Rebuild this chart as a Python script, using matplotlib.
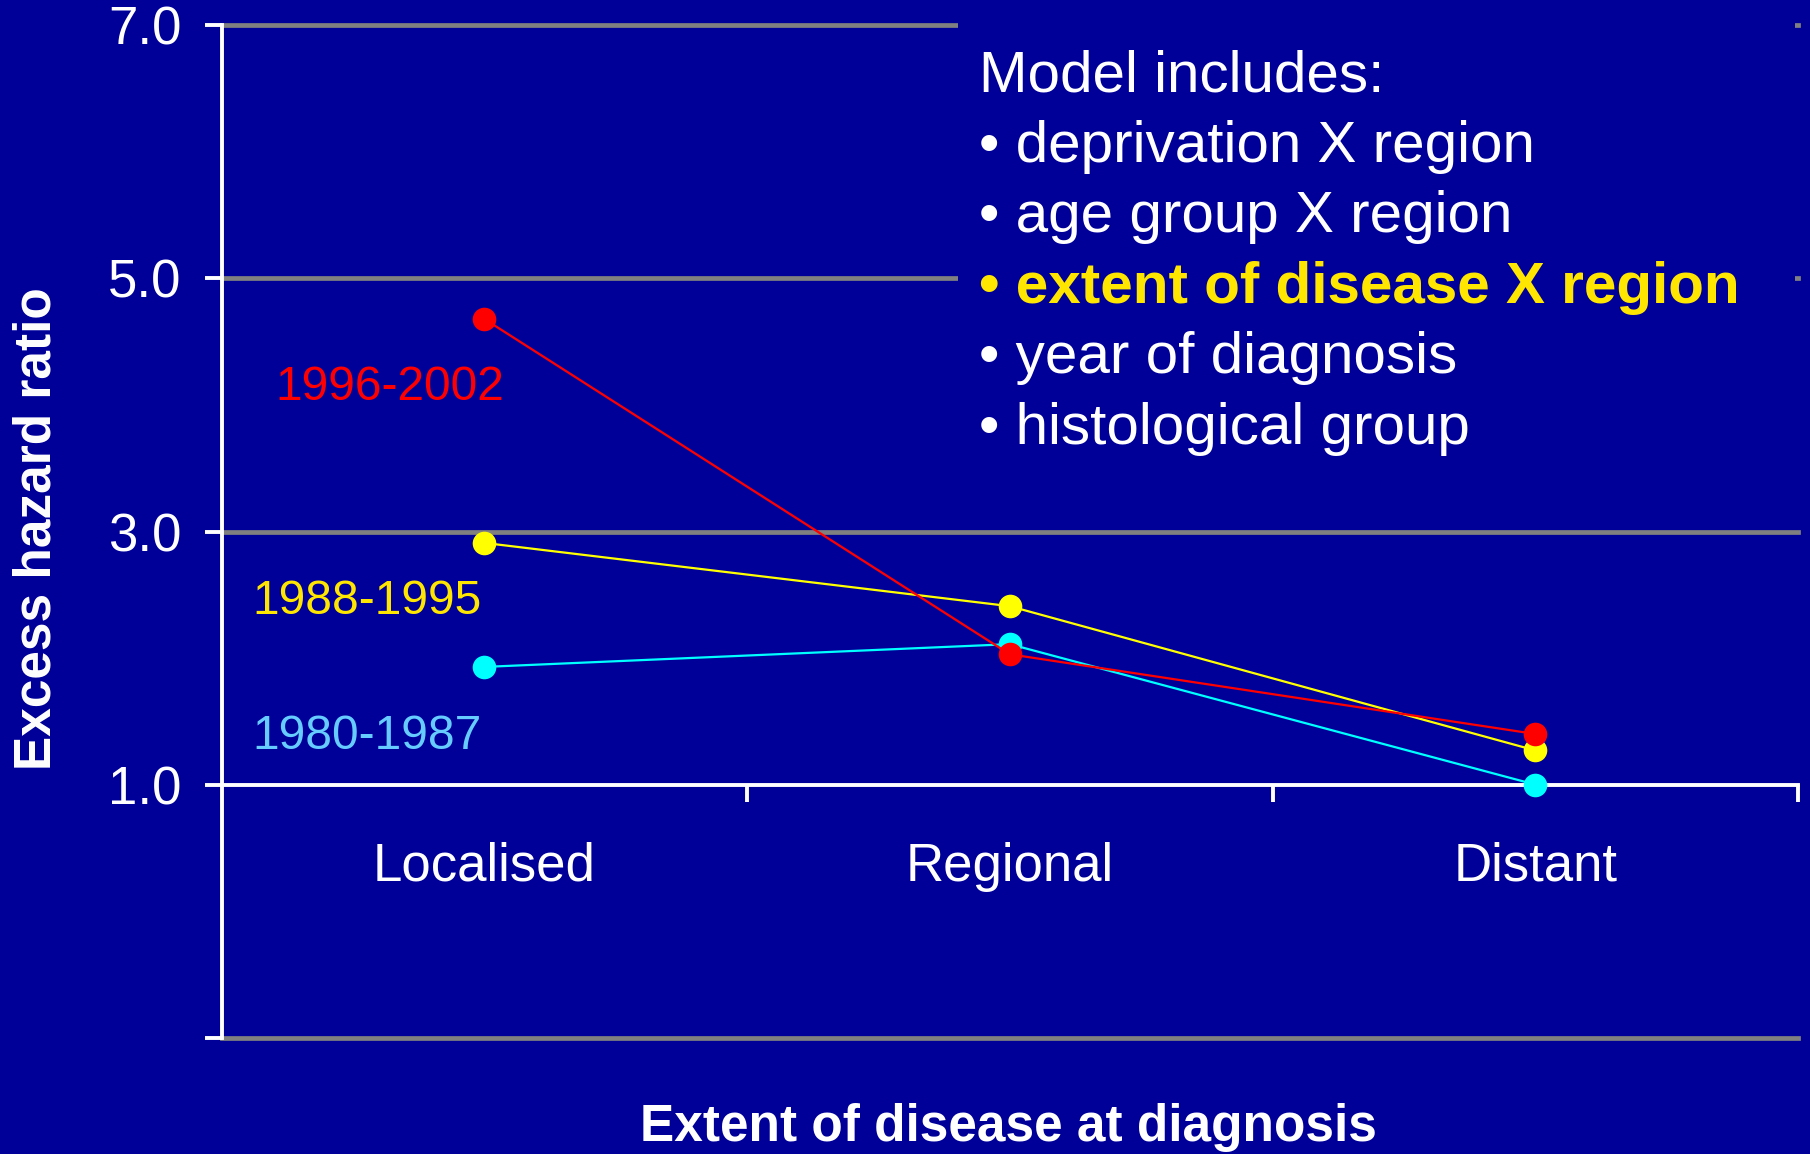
import matplotlib
matplotlib.use("Agg")
import matplotlib.pyplot as plt
from matplotlib.patches import Rectangle
from matplotlib.ticker import FixedLocator, FixedFormatter

# ---- data ----
categories = ["Localised", "Regional", "Distant"]
series_names = ["1996-2002", "1988-1995", "1980-1987"]
vals_1996_2002 = [4.68, 2.03, 1.40]
vals_1988_1995 = [2.91, 2.41, 1.27]
vals_1980_1987 = [1.93, 2.11, 1.00]
y_ticks = [-1.0, 1.0, 3.0, 5.0, 7.0]
y_tick_labels = ["", "1.0", "3.0", "5.0", "7.0"]
grid_values = [-1.0, 3.0, 5.0, 7.0]
box_title = "Model includes:"
box_items = ["deprivation X region", "age group X region",
             "extent of disease X region", "year of diagnosis",
             "histological group"]
highlight_item = "extent of disease X region"
x_title = "Extent of disease at diagnosis"
y_title = "Excess hazard ratio"

BG = "#000099"
GRID = "#808080"
FONT = ["Liberation Sans", "DejaVu Sans"]
plt.rcParams["font.family"] = FONT

fig = plt.figure(figsize=(18.10, 11.54), dpi=100, facecolor=BG)
ax = fig.add_axes([0.1224, 0.1008, 0.8710, 0.8772])
ax.set_facecolor(BG)
ax.set_xlim(0, 3)
ax.set_ylim(-1, 7)

# grid lines
for g in grid_values:
    ax.axhline(g, color=GRID, lw=3.4, zorder=1, clip_on=False)

# spines
for s in ["top", "right"]:
    ax.spines[s].set_visible(False)
ax.spines["left"].set_color("white")
ax.spines["left"].set_linewidth(2.8)
ax.spines["left"].set_zorder(5)
ax.spines["bottom"].set_position(("data", 1.0))
ax.spines["bottom"].set_color("white")
ax.spines["bottom"].set_linewidth(2.8)
ax.spines["bottom"].set_zorder(5)

# y ticks
ax.yaxis.set_major_locator(FixedLocator(y_ticks))
ax.yaxis.set_major_formatter(FixedFormatter(y_tick_labels))
ax.tick_params(axis="y", colors="white", length=12, width=2.8, pad=17,
               labelsize=38, direction="out")

# x ticks: major at boundaries, minor at category centers with labels
xpos = [i + 0.5 for i in range(len(categories))]
ax.xaxis.set_major_locator(FixedLocator([1, 2, 3]))
ax.xaxis.set_major_formatter(FixedFormatter(["", "", ""]))
ax.xaxis.set_minor_locator(FixedLocator(xpos))
ax.xaxis.set_minor_formatter(FixedFormatter(categories))
ax.tick_params(axis="x", which="major", colors="white", length=12, width=2.8,
               direction="out")
ax.tick_params(axis="x", which="minor", colors="white", length=0, pad=41,
               labelsize=38)

# data lines
series = [
    (vals_1980_1987, "#00FFFF"),
    (vals_1988_1995, "#FFFF00"),
    (vals_1996_2002, "#FF0000"),
]
for vals, c in series:
    ax.plot(xpos, vals, color=c, lw=1.6, marker="o", markersize=17,
            markeredgewidth=0, zorder=6, clip_on=False)

# series labels
ax.text(0.320, 4.14, series_names[0], color="#FF0000", fontsize=34.5,
        ha="center", va="center", zorder=7)
ax.text(0.277, 2.45, series_names[1], color="#FFE600", fontsize=34.5,
        ha="center", va="center", zorder=7)
ax.text(0.277, 1.38, series_names[2], color="#66CCFF", fontsize=34.5,
        ha="center", va="center", zorder=7)

# box covering gridlines behind the text
ax.add_patch(Rectangle((1.401, 3.4), 2.994 - 1.401, 3.8, facecolor=BG,
                       edgecolor="none", zorder=2, clip_on=False))

# box text
W, H = 1810.0, 1154.0
x0 = 979 / W
line_y = [77, 147, 217, 288, 358, 429]
fig.text(x0, 1 - line_y[0] / H, box_title, color="white", fontsize=42,
         ha="left", va="center", zorder=8)
for item, yy in zip(box_items, line_y[1:]):
    hl = item == highlight_item
    fig.text(x0, 1 - yy / H, "\u2022 " + item,
             color="#FFE600" if hl else "white",
             fontweight="bold" if hl else "normal",
             fontsize=42, ha="left", va="center", zorder=8)

# axis titles
fig.text(1008 / W, 1 - 1128 / H, x_title, color="white", fontsize=37,
         fontweight="bold", ha="center", va="center")
fig.text(37 / W, 1 - 529 / H, y_title, color="white", fontsize=37,
         fontweight="bold", ha="center", va="center", rotation=90)

fig.savefig("out.png", dpi=100, facecolor=BG)
